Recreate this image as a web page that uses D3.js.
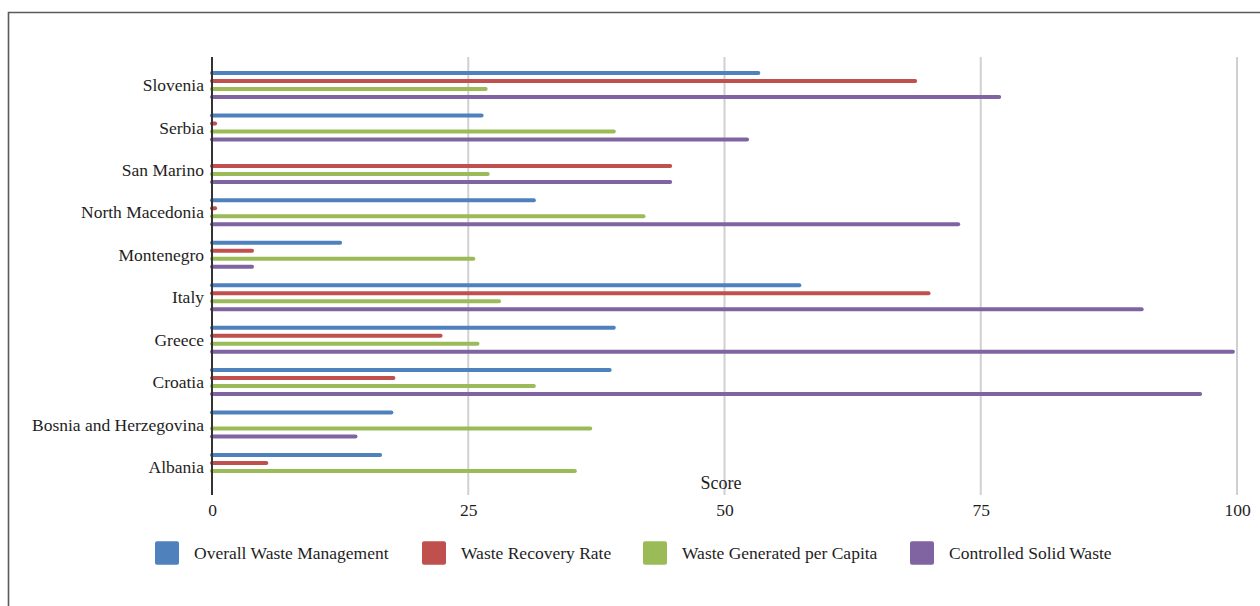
<!DOCTYPE html>
<html>
<head>
<meta charset="utf-8">
<script src="https://cdn.jsdelivr.net/npm/d3@7"></script>
<style>
  html, body { margin: 0; padding: 0; background: #fff; }
  svg { display: block; }
  text { font-family: "Liberation Serif", "Times New Roman", serif; fill: #1e1e1e; }
</style>
</head>
<body>
<svg id="chart" width="1260" height="606"></svg>
<script>
// Countries, listed top to bottom as drawn
const countries = ["Slovenia", "Serbia", "San Marino", "North Macedonia", "Montenegro",
                   "Italy", "Greece", "Croatia", "Bosnia and Herzegovina", "Albania"];

// Scores per indicator (null = no value reported)
const overallWaste    = [53.3, 26.3, null, 31.4, 12.5, 57.3, 39.2, 38.8, 17.5, 16.4];
const recoveryRate    = [68.6, 0.3, 44.7, 0.3, 3.9, 69.9, 22.3, 17.7, null, 5.3];
const perCapita       = [26.7, 39.2, 26.9, 42.1, 25.5, 28.0, 25.9, 31.4, 36.9, 35.4];
const controlledWaste = [76.8, 52.2, 44.7, 72.8, 3.9, 90.7, 99.6, 96.4, 14.0, null];

const seriesNames  = ["Overall Waste Management", "Waste Recovery Rate",
                      "Waste Generated per Capita", "Controlled Solid Waste"];
const seriesColors = ["#4F81BD", "#C0504D", "#9BBB59", "#8064A2"];
const xTicks = [0, 25, 50, 75, 100];

const series = [overallWaste, recoveryRate, perCapita, controlledWaste];

const svg = d3.select("#chart");
const plot = { left: 212, right: 1237, top: 57, bottom: 495 };

// Outer frame (top and left edges)
svg.append("path")
  .attr("d", "M8.5,606 L8.5,12.5 L1260,12.5")
  .attr("fill", "none")
  .attr("stroke", "#5a5a5a")
  .attr("stroke-width", 1.6);

const x = d3.scaleLinear().domain([0, 100]).range([plot.left, plot.right]);
const y = d3.scalePoint().domain(countries).range([plot.top, plot.bottom]).padding(0.66);
const barOffset = d3.scalePoint().domain(d3.range(series.length)).range([-12, 12]);

// Vertical gridlines
svg.append("g")
  .selectAll("line")
  .data(xTicks.filter(t => t > 0))
  .join("line")
  .attr("x1", d => x(d)).attr("x2", d => x(d))
  .attr("y1", plot.top).attr("y2", plot.bottom)
  .attr("stroke", "#d0d0d0")
  .attr("stroke-width", 2);

// Bars drawn as thick round-capped lines
const bars = [];
series.forEach((vals, si) => {
  vals.forEach((v, ci) => {
    if (v !== null) bars.push({ si, country: countries[ci], value: v });
  });
});

svg.append("g")
  .selectAll("line")
  .data(bars)
  .join("line")
  .attr("x1", x(0))
  .attr("x2", d => x(d.value))
  .attr("y1", d => y(d.country) + barOffset(d.si))
  .attr("y2", d => y(d.country) + barOffset(d.si))
  .attr("stroke", d => seriesColors[d.si])
  .attr("stroke-width", 4)
  .attr("stroke-linecap", "round");

// Category axis line
svg.append("line")
  .attr("x1", plot.left).attr("x2", plot.left)
  .attr("y1", plot.top).attr("y2", plot.bottom)
  .attr("stroke", "#333")
  .attr("stroke-width", 2);

// Country labels
svg.append("g")
  .selectAll("text")
  .data(countries)
  .join("text")
  .attr("x", 204)
  .attr("y", d => y(d))
  .attr("dy", "0.35em")
  .attr("text-anchor", "end")
  .style("font-size", "17.5px")
  .text(d => d);

// Score axis tick labels
const xAxis = d3.axisBottom(x).tickValues(xTicks).tickSize(0).tickPadding(0);
const gx = svg.append("g").attr("transform", `translate(0,${plot.bottom + 9})`).call(xAxis);
gx.select(".domain").remove();
gx.selectAll("text")
  .attr("y", 0)
  .attr("dy", "0.71em")
  .style("font-family", '"Liberation Serif", "Times New Roman", serif')
  .style("font-size", "17.5px")
  .attr("fill", "#1e1e1e");

// Axis title
svg.append("text")
  .attr("x", 721)
  .attr("y", 489)
  .attr("text-anchor", "middle")
  .style("font-size", "18px")
  .text("Score");

// Legend
const legendX = [155, 422, 643, 910];
const legend = svg.append("g")
  .selectAll("g")
  .data(seriesNames)
  .join("g")
  .attr("transform", (d, i) => `translate(${legendX[i]},553)`);

legend.append("rect")
  .attr("x", 0).attr("y", -11.7)
  .attr("width", 24).attr("height", 23.4)
  .attr("rx", 2)
  .attr("fill", (d, i) => seriesColors[i]);

legend.append("text")
  .attr("x", 39)
  .attr("y", 0)
  .attr("dy", "0.35em")
  .style("font-size", "17.5px")
  .text(d => d);
</script>
</body>
</html>
